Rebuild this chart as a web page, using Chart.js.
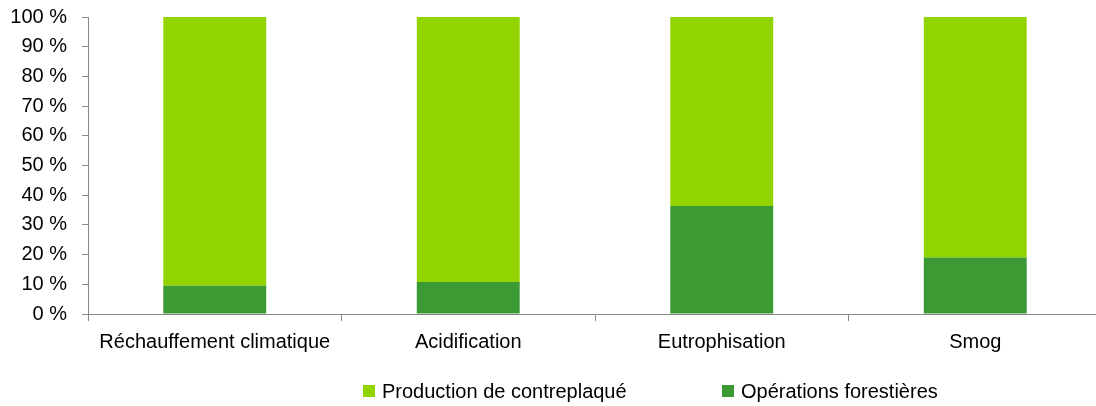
<!DOCTYPE html>
<html>
<head>
<meta charset="utf-8">
<script src="https://cdn.jsdelivr.net/npm/chart.js@4/dist/chart.umd.min.js"></script>
<style>
  html, body { margin: 0; padding: 0; background: #fff; overflow: hidden; }
  #wrap { width: 1110px; height: 406px; position: relative; }
</style>
</head>
<body>
<div id="wrap"><canvas id="c"></canvas></div>
<script>
const categories = ['Réchauffement climatique', 'Acidification', 'Eutrophisation', 'Smog'];
const operationsForestieres = [9.5, 10.8, 36.4, 19.0];
const productionContreplaque = [90.5, 89.2, 63.6, 81.0];
const yTicks = [0, 10, 20, 30, 40, 50, 60, 70, 80, 90, 100];

const FONT = "'Liberation Sans', Arial, sans-serif";
const AXIS = '#898989';

const legendPlugin = {
  id: 'customLegend',
  afterDraw(chart) {
    const ctx = chart.ctx;
    const items = [
      { ds: chart.data.datasets[1], x: 363 },
      { ds: chart.data.datasets[0], x: 722 }
    ];
    ctx.save();
    ctx.font = '20px ' + FONT;
    ctx.textBaseline = 'middle';
    ctx.textAlign = 'left';
    items.forEach(it => {
      ctx.fillStyle = it.ds.backgroundColor;
      ctx.fillRect(it.x, 385, 12, 12);
      ctx.fillStyle = '#000';
      ctx.fillText(it.ds.label, it.x + 19, 392);
    });
    ctx.restore();
  }
};

new Chart(document.getElementById('c'), {
  type: 'bar',
  data: {
    labels: categories,
    datasets: [
      { label: 'Opérations forestières', data: operationsForestieres, backgroundColor: '#3C9A35' },
      { label: 'Production de contreplaqué', data: productionContreplaque, backgroundColor: '#92D400' }
    ]
  },
  options: {
    responsive: true,
    maintainAspectRatio: false,
    animation: false,
    layout: { padding: { left: 0, right: 8, top: 17, bottom: 43 } },
    datasets: { bar: { categoryPercentage: 1, barPercentage: 0.406 } },
    plugins: { legend: { display: false }, tooltip: { enabled: false } },
    scales: {
      x: {
        stacked: true,
        offset: true,
        grid: { offset: true, drawOnChartArea: false, drawTicks: true, tickLength: 7, color: AXIS },
        border: { color: AXIS, width: 1 },
        ticks: { color: '#000', font: { family: FONT, size: 20 }, padding: 9, maxRotation: 0, autoSkip: false }
      },
      y: {
        stacked: true,
        min: 0, max: 100,
        afterBuildTicks(axis) { axis.ticks = yTicks.map(v => ({ value: v })); },
        afterFit(axis) { axis.width = 88; axis.paddingTop = 0; axis.paddingBottom = 0; },
        grid: { drawOnChartArea: false, drawTicks: true, tickLength: 6, color: AXIS },
        border: { color: AXIS, width: 1 },
        ticks: { color: '#000', font: { family: FONT, size: 20 }, padding: 15, callback: v => v + ' %' }
      }
    }
  },
  plugins: [legendPlugin]
});
</script>
</body>
</html>
